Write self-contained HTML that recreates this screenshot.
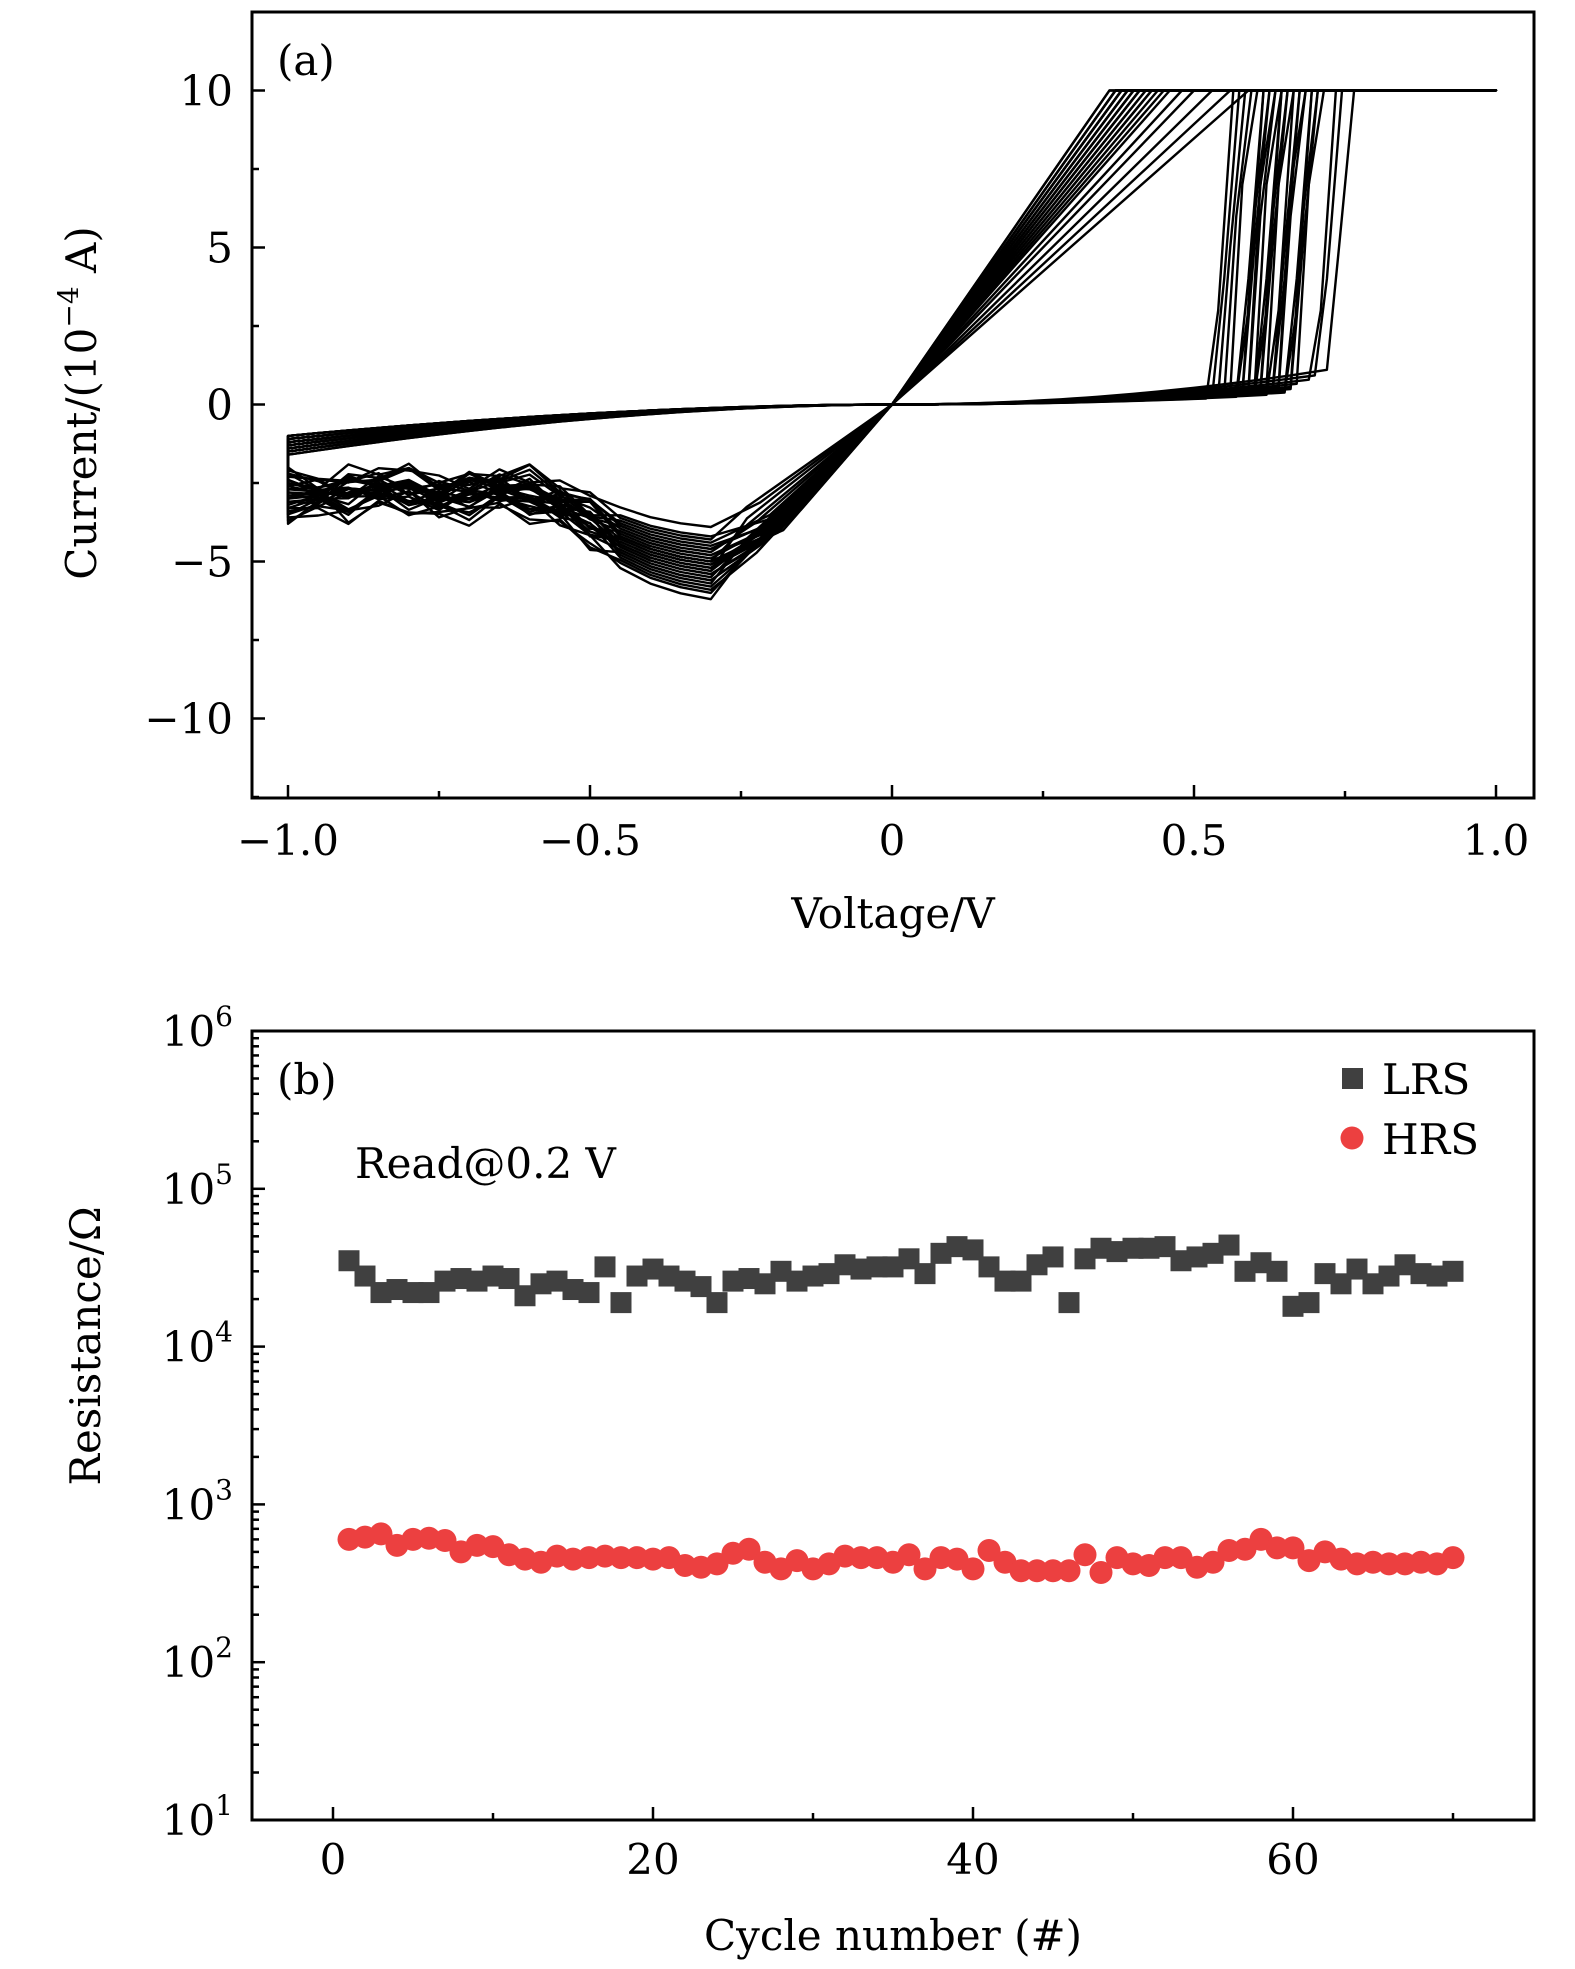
<!DOCTYPE html>
<html><head><meta charset="utf-8"><style>
html,body{margin:0;padding:0;background:#fff;}
svg{display:block;font-family:"DejaVu Serif","Liberation Serif",serif;}
</style></head><body>
<svg id="fig" width="1575" height="1969" viewBox="0 0 1575 1969" xmlns="http://www.w3.org/2000/svg">
<g id="pa"></g>
<g id="pb"></g>
</svg>
<script>
// ---------- Panel (a) data ----------
const ivXTicks = [-1.0, -0.5, 0, 0.5, 1.0];
const ivXTickLabels = ["\u22121.0", "\u22120.5", "0", "0.5", "1.0"];
const ivYTicks = [-10, -5, 0, 5, 10];
const ivYTickLabels = ["\u221210", "\u22125", "0", "5", "10"];
const compliance = 10;
const setVoltage = [0.52,0.53,0.54,0.55,0.56,0.57,0.57,0.58,0.59,0.59,0.60,0.60,0.61,0.61,0.62,0.62,0.63,0.63,0.64,0.64,0.65,0.65,0.66,0.66,0.67,0.69,0.70,0.72,0.58,0.60];
const lrsComplianceV = [0.36,0.37,0.37,0.38,0.38,0.39,0.39,0.40,0.40,0.41,0.41,0.42,0.42,0.43,0.44,0.45,0.46,0.48,0.50,0.53,0.56,0.59,0.38,0.39,0.40,0.37,0.38,0.41,0.43,0.36];
const resetPeak = [-4.2,-4.5,-4.8,-5.0,-5.2,-5.4,-5.6,-5.8,-6.0,-6.2,-4.6,-4.9,-5.1,-5.3,-5.5,-5.7,-4.4,-4.7,-5.0,-5.3,-3.9,-4.3,-5.9,-5.6,-4.8,-5.1,-5.4,-4.6,-5.2,-5.0];
const lrsEndI = [-3.8,-3.5,-3.3,-3.0,-2.8,-2.6,-2.4,-2.2,-2.0,-3.6,-3.2,-2.9,-2.7,-2.5,-3.4,-3.1,-2.3,-2.1,-3.7,-2.8,-2.6,-3.0,-3.3,-2.4,-2.2,-3.5,-2.9,-2.7,-3.1,-2.5];
const hrsNegEndI = [-1.0,-1.1,-1.2,-1.3,-1.4,-1.5,-1.6,-1.0,-1.2,-1.3,-1.1,-1.4,-1.5,-1.2,-1.3,-1.0,-1.6,-1.1,-1.4,-1.2,-1.3,-1.5,-1.0,-1.2,-1.1,-1.4,-1.3,-1.5,-1.2,-1.0];
const hrsPosI = [0.30,0.35,0.40,0.45,0.50,0.32,0.38,0.42,0.48,0.55,0.36,0.40,0.44,0.52,0.60,0.34,0.42,0.46,0.50,0.58,0.38,0.44,0.48,0.54,0.62,0.70,0.80,0.90,0.40,0.46];
const negShapeV = [-0.30,-0.35,-0.40,-0.45,-0.50,-0.55,-0.60,-0.65,-0.70,-0.75,-0.80,-0.85,-0.90];
const negShapeF = [1.00,0.97,0.92,0.84,0.72,0.62,0.56,0.53,0.56,0.58,0.54,0.52,0.56];
const negWiggle = [0.0,0.3,-0.3,0.5,-0.5,0.2,-0.2,0.6,-0.4,0.1,-0.6,0.4,-0.1,0.3,-0.3,0.5,-0.5,0.2,-0.2,0.6,-0.4,0.1,-0.6,0.4,-0.1,0.3,-0.3,0.5,-0.5,0.2];

// ---------- Panel (b) data ----------
const cycles = Array.from({length:70},(_,i)=>i+1);
const lrsValues = [3.5,2.8,2.2,2.3,2.2,2.2,2.6,2.7,2.6,2.8,2.7,2.1,2.5,2.6,2.3,2.2,3.2,1.9,2.8,3.1,2.8,2.6,2.4,1.9,2.6,2.7,2.5,3.0,2.6,2.8,2.9,3.3,3.1,3.2,3.2,3.6,2.9,3.9,4.3,4.1,3.2,2.6,2.6,3.3,3.7,1.9,3.6,4.2,4.0,4.2,4.2,4.3,3.5,3.7,3.9,4.4,3.0,3.4,3.0,1.8,1.9,2.9,2.5,3.1,2.5,2.8,3.3,2.9,2.8,3.0].map(v=>v*1e4);
const hrsValues = [6.0,6.2,6.5,5.5,6.0,6.1,5.9,5.0,5.5,5.4,4.8,4.5,4.3,4.7,4.5,4.6,4.7,4.6,4.6,4.5,4.6,4.1,4.0,4.2,4.9,5.2,4.3,3.9,4.4,3.9,4.2,4.7,4.6,4.6,4.3,4.8,3.9,4.6,4.5,3.9,5.1,4.3,3.8,3.8,3.8,3.8,4.8,3.7,4.6,4.2,4.1,4.6,4.6,4.0,4.3,5.1,5.2,6.0,5.3,5.3,4.4,5.0,4.5,4.2,4.3,4.2,4.2,4.3,4.2,4.6].map(v=>v*100);
const cycleTicks = [0,20,40,60];
const resExpTicks = [1,2,3,4,5,6];

const NS = "http://www.w3.org/2000/svg";
function mk(tag, attrs, parent){ const e=document.createElementNS(NS,tag); for(const k in attrs) e.setAttribute(k,attrs[k]); parent.appendChild(e); return e; }
const FS = 42;

// ---------- Panel (a) ----------
const A = {l:252, r:1534, t:12, b:798};
const ax = v => 892 + v*604;
const ay = i => 404.5 - i*31.4;
const pa = document.getElementById('pa');
const lines = mk('g',{},pa);


for(let c=0;c<setVoltage.length;c++){
  const pts=[];
  for(let v=0; v<=setVoltage[c]+1e-9; v+=0.02){ pts.push([v, hrsPosI[c]*Math.pow(v/0.65,2)]); }
  pts.push([setVoltage[c], hrsPosI[c]*Math.pow(setVoltage[c]/0.65,2)]);
  pts.push([setVoltage[c]+0.02, 3 + (c%5)]);
  pts.push([setVoltage[c]+0.045, compliance]);
  pts.push([1.0, compliance]);
  pts.push([lrsComplianceV[c], compliance]);
  pts.push([0,0]);
  const k = compliance/lrsComplianceV[c]*0.8;
  const vp = Math.max(resetPeak[c]*0.8/k, -0.24);
  pts.push([vp, k*vp]);
  for(let j=0;j<negShapeV.length;j++){
    const w = (j>=4 && j%2===0) ? negWiggle[(c+j)%negWiggle.length] : 0;
    pts.push([negShapeV[j], resetPeak[c]*negShapeF[j] + w]);
  }
  pts.push([-0.95, (resetPeak[c]*0.56+lrsEndI[c])/2]);
  pts.push([-1.0, lrsEndI[c]]);
  for(let v=-1.0; v<=0.0001; v+=0.05){ pts.push([v, hrsNegEndI[c]*Math.pow(Math.abs(v),1.8)]); }
  const d = pts.map((p,i)=>(i?'L':'M')+ax(p[0]).toFixed(1)+' '+ay(p[1]).toFixed(1)).join(' ');
  const path = mk('path',{d:d, fill:'none', stroke:'#000', 'stroke-width':2.4, 'stroke-linejoin':'round'}, lines);
  
  
}
const frameA = mk('rect',{x:A.l,y:A.t,width:A.r-A.l,height:A.b-A.t,fill:'none',stroke:'#000','stroke-width':3},pa);


const axA = mk('g',{},pa);


for(let v=-1.0; v<=1.0001; v+=0.25){
  const major = Math.abs(v*2-Math.round(v*2))<1e-6;
  mk('line',{x1:ax(v),x2:ax(v),y1:A.b,y2:A.b-(major?13:7),stroke:'#000','stroke-width':2.5},axA);
}
ivXTicks.forEach((v,i)=>{
  const t=mk('text',{x:ax(v),y:855,'font-size':FS,'text-anchor':'middle'},axA); t.textContent=ivXTickLabels[i];
   
});
for(let v=-12.5; v<=12.5; v+=2.5){
  const major = Math.abs(v/5-Math.round(v/5))<1e-6;
  mk('line',{x1:A.l,x2:A.l+(major?13:7),y1:ay(v),y2:ay(v),stroke:'#000','stroke-width':2.5},axA);
}
ivYTicks.forEach((v,i)=>{
  const t=mk('text',{x:233,y:ay(v)+15,'font-size':FS,'text-anchor':'end'},axA); t.textContent=ivYTickLabels[i];
   
});
</script>
<script>
(function(){
const pa=document.getElementById('pa');
const NS="http://www.w3.org/2000/svg";
const FS=42;
function tx(parent,x,y,size,anchor,html,name,rot){
  const t=document.createElementNS(NS,'text');
  t.setAttribute('x',x);t.setAttribute('y',y);t.setAttribute('font-size',size);t.setAttribute('text-anchor',anchor);
  if(rot) t.setAttribute('transform','rotate(-90 '+x+' '+y+')');
  t.innerHTML=html;
  
  
  parent.appendChild(t);return t;
}
tx(pa,277,75,FS,'start','(a)','panel-a-label');
tx(pa,893,928,FS,'middle','Voltage/V','x-axis-title-voltage');
tx(pa,96,403,FS,'middle','Current/(10<tspan dy="-18" font-size="28">\u22124</tspan><tspan dy="18"> A)</tspan>','y-axis-title-current',true);

const pb=document.getElementById('pb');
const B={l:252,r:1534,t:1031,b:1820};
const bx=v=>333+v*16.0;
const by=r=>1820-(Math.log10(r)-1)*157.8;
function mk(tag,attrs,parent){const e=document.createElementNS(NS,tag);for(const k in attrs)e.setAttribute(k,attrs[k]);parent.appendChild(e);return e;}
const frameB=mk('rect',{x:B.l,y:B.t,width:B.r-B.l,height:B.b-B.t,fill:'none',stroke:'#000','stroke-width':3},pb);


const axB=mk('g',{},pb);


for(let v=0;v<=70;v+=10){
  const major=v%20===0;
  mk('line',{x1:bx(v),x2:bx(v),y1:B.b,y2:B.b-(major?13:7),stroke:'#000','stroke-width':2.5},axB);
}
cycleTicks.forEach(v=>{ tx(axB,bx(v),1874,FS,'middle',String(v),'x-tick-label'); });
for(let e=1;e<6;e++){
  for(let m=1;m<10;m++){
    const y=by(m*Math.pow(10,e));
    mk('line',{x1:B.l,x2:B.l+(m===1?13:7),y1:y,y2:y,stroke:'#000','stroke-width':2.5},axB);
  }
}
resExpTicks.forEach(e=>{ tx(axB,233,by(Math.pow(10,e))+15,FS,'end','10<tspan dy="-20" font-size="28">'+e+'</tspan>','y-tick-label'); });
const sq=mk('g',{fill:'#404040'},pb);


cycles.forEach((c,i)=>{
  const r=mk('rect',{x:bx(c)-10.5,y:by(lrsValues[i])-10.5,width:21,height:21},sq);
  
  
});
const ci=mk('g',{fill:'#ec4040'},pb);


cycles.forEach((c,i)=>{
  const r=mk('circle',{cx:bx(c),cy:by(hrsValues[i]),r:11.5},ci);
  
  
});
const lg=mk('g',{},pb);


const ls=mk('rect',{x:1342,y:1068,width:21,height:21,fill:'#404040'},lg);


tx(lg,1382,1094,FS,'start','LRS','legend-lrs-label');
const lc=mk('circle',{cx:1352,cy:1138,r:11.5,fill:'#ec4040'},lg);


tx(lg,1382,1154,FS,'start','HRS','legend-hrs-label');
tx(pb,277,1094,FS,'start','(b)','panel-b-label');
tx(pb,355,1178,FS,'start','Read@0.2 V','read-voltage-annotation');
tx(pb,893,1950,FS,'middle','Cycle number (#)','x-axis-title-cycle');
tx(pb,100,1346,FS,'middle','Resistance/\u03a9','y-axis-title-resistance',true);
})();
</script>
</body></html>
